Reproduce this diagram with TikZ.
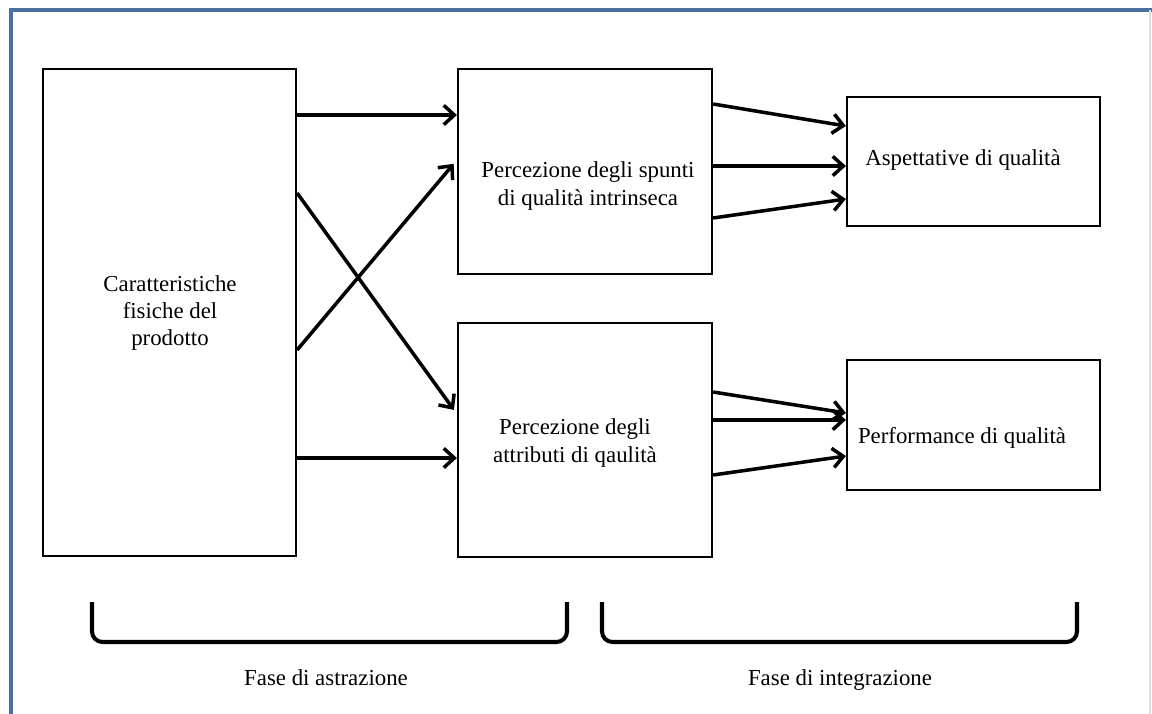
\documentclass[tikz,border=0pt]{standalone}
\usepackage{fontspec}
\setmainfont{Liberation Serif}
\usetikzlibrary{arrows.meta}
\definecolor{framecol}{RGB}{74,111,160}

\begin{document}
\begin{tikzpicture}[x=0.02cm,y=-0.02cm,
    box/.style={draw,line width=1.3pt,inner sep=0pt},
    lbl/.style={align=center,font=\fontsize{13}{15.5}\selectfont},
    conn/.style={line width=2pt,-{Straight Barb[length=6pt,width=11pt]}},
    bracket/.style={line width=2.3pt,rounded corners=6pt}]
    \useasboundingbox (0,0) rectangle (1152,713);
    \clip (0,0) rectangle (1152,713);
    % frame
    \draw[framecol,line width=2pt](11,730)--(11,10)--(1160,10);
    \draw[gray!25,line width=0.8pt](1150,10)--(1150,730);

    % boxes
    \node[box,minimum width=5.06cm,minimum height=9.74cm](car)at(169.5,312.5){};
    \node[box,minimum width=5.08cm,minimum height=4.1cm](pt)at(585,171.5){};
    \node[box,minimum width=5.08cm,minimum height=4.68cm](pb)at(585,440){};
    \node[box,minimum width=5.06cm,minimum height=2.58cm](as)at(973.5,161.5){};
    \node[box,minimum width=5.06cm,minimum height=2.6cm](pf)at(973.5,425){};

    \node[lbl](carl)at(170,313){Caratteristiche\\fisiche del\\prodotto};
    \node[lbl](ptl)at(588,186){Percezione degli spunti\\di qualità intrinseca};
    \node[lbl](pbl)at(575,443){Percezione degli\\attributi di qaulità};
    \node[lbl](asl)at(963,160){Aspettative di qualità};
    \node[lbl](pfl)at(962,438){Performance di qualità};

    % abstraction arrows
    \draw[conn](car.east |- 0,115)--(pt.west |- 0,115);
    \draw[conn,shorten >=1mm](car.east |- 0,350)--(pt.west |- 0,160);
    \draw[conn,shorten >=1mm](car.east |- 0,193)--(pb.west |- 0,414);
    \draw[conn](car.east |- 0,458)--(pb.west |- 0,458);

    % integration arrows
    \draw[conn](pt.east |- 0,104)--(as.west |- 0,126);
    \draw[conn](pt.east |- 0,166)--(as.west |- 0,166);
    \draw[conn](pt.east |- 0,218)--(as.west |- 0,199);
    \draw[conn](pb.east |- 0,392)--(pf.west |- 0,413);
    \draw[conn](pb.east |- 0,420)--(pf.west |- 0,420);
    \draw[conn](pb.east |- 0,475)--(pf.west |- 0,456);

    % phases
    \draw[bracket](92,602)--(92,642)--(567,642)--(567,602);
    \draw[bracket](602,602)--(602,642)--(1077,642)--(1077,602);
    \node[lbl,anchor=base](fa)at(326,685){Fase di astrazione};
    \node[lbl,anchor=base](fi)at(840,685){Fase di integrazione};
\end{tikzpicture}
\end{document}
